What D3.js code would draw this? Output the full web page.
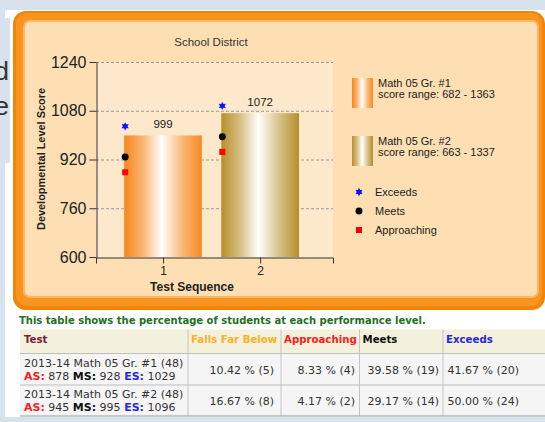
<!DOCTYPE html>
<html>
<head>
<meta charset="utf-8">
<script src="https://cdn.jsdelivr.net/npm/d3@7"></script>
<style>
  html, body { margin: 0; padding: 0; background: #d7e2ee; }
  svg { display: block; }
</style>
</head>
<body>
<svg id="page" width="545" height="422"></svg>
<script>
// chart values
const testSeq = [1, 2];
const avgScores = [999, 1072];
const exceedsScores = [1029, 1096];
const meetsScores = [928, 995];
const approachingScores = [878, 945];
const yTicks = [600, 760, 920, 1080, 1240];
const seriesNames = ["Math 05 Gr. #1", "Math 05 Gr. #2"];
const scoreRanges = ["682 - 1363", "663 - 1337"];
const levelNames = ["Exceeds", "Meets", "Approaching"];

// table values
const tableHeaders = ["Test", "Falls Far Below", "Approaching", "Meets", "Exceeds"];
const testNames = ["2013-14 Math 05 Gr. #1 (48)", "2013-14 Math 05 Gr. #2 (48)"];
const fallsPct = ["10.42", "16.67"], fallsN = [5, 8];
const approachPct = ["8.33", "4.17"], approachN = [4, 2];
const meetsPct = ["39.58", "29.17"], meetsN = [19, 14];
const exceedsPct = ["41.67", "50.00"], exceedsN = [20, 24];

const svg = d3.select("#page");
const defs = svg.append("defs");

function addGradient(id, edgeL, mid, edgeR) {
    const g = defs.append("linearGradient").attr("id", id)
        .attr("x1", "0%").attr("x2", "100%").attr("y1", "0%").attr("y2", "0%");
    g.append("stop").attr("offset", "0%").attr("stop-color", edgeL);
    g.append("stop").attr("offset", "25%").attr("stop-color", mid);
    g.append("stop").attr("offset", "48%").attr("stop-color", "#ffffff");
    g.append("stop").attr("offset", "75%").attr("stop-color", mid);
    g.append("stop").attr("offset", "100%").attr("stop-color", edgeR);
}
addGradient("grad0", "#f7861b", "#fbb777", "#f88a22");
addGradient("grad1", "#b68f2a", "#d8c187", "#b48e2c");

////////  Page background /////////////

svg.append("rect").attr("x", 5).attr("y", 10).attr("width", 540).attr("height", 407)
    .attr("fill", "#ffffff");
defs.append("clipPath").attr("id", "sideclip").append("rect")
    .attr("x", 0).attr("y", 18).attr("width", 10).attr("height", 145);
const side = svg.append("g").attr("clip-path", "url(#sideclip)");
side.append("rect").attr("x", 0).attr("y", 18).attr("width", 10).attr("height", 145)
    .attr("fill", "#d7e2ee");
// the end of a text box that sits mostly off screen
side.selectAll("text").data(["d", "e"]).join("text")
    .attr("x", 9).attr("y", (d, i) => 80 + i * 35)
    .attr("text-anchor", "end")
    .style("font", "26px 'Liberation Sans', Arial, sans-serif")
    .attr("fill", "#333")
    .text(d => d);

////////  Orange frame /////////////

svg.append("rect").attr("x", 13).attr("y", 11).attr("width", 532).attr("height", 299)
    .attr("rx", 13).attr("fill", "#f28505");
svg.append("rect").attr("x", 16).attr("y", 13).attr("width", 526).attr("height", 293)
    .attr("rx", 11).attr("fill", "#f99421");
svg.append("rect").attr("x", 24).attr("y", 21).attr("width", 514).attr("height", 276)
    .attr("rx", 6).attr("fill", "#fddfb3")
    .attr("stroke", "#fcb865").attr("stroke-width", 2);

////////  Chart /////////////

const plot = { left: 96, right: 333, top: 62, bottom: 257 };
const x = d3.scaleLinear().domain([0.31, 2.75]).range([plot.left, plot.right]);
const y = d3.scaleLinear().domain([600, 1240]).range([plot.bottom, plot.top]);
const barW = x(0.8) - x(0);
const font = "'Liberation Sans', Arial, sans-serif";

const chart = svg.append("g");
chart.append("rect")
    .attr("x", plot.left).attr("y", plot.top)
    .attr("width", plot.right - plot.left).attr("height", plot.bottom - plot.top)
    .attr("fill", "#fee8cc");

chart.append("g").selectAll("line")
    .data(yTicks.filter(t => t > 600))
    .join("line")
    .attr("x1", plot.left).attr("x2", plot.right)
    .attr("y1", d => y(d) + 0.5).attr("y2", d => y(d) + 0.5)
    .attr("stroke", "#999").attr("stroke-dasharray", "3,2");

chart.append("g").selectAll("rect")
    .data(testSeq)
    .join("rect")
    .attr("x", d => x(d) - barW / 2)
    .attr("y", (d, i) => y(avgScores[i]))
    .attr("width", barW)
    .attr("height", (d, i) => y(600) - y(avgScores[i]))
    .attr("fill", (d, i) => "url(#grad" + i + ")");

chart.append("g").selectAll("text")
    .data(testSeq)
    .join("text")
    .attr("x", d => x(d))
    .attr("y", (d, i) => y(avgScores[i]) - 7)
    .attr("text-anchor", "middle")
    .style("font", "11.5px " + font)
    .attr("fill", "#222")
    .text((d, i) => avgScores[i]);

const yAxis = chart.append("g")
    .attr("transform", "translate(" + (plot.left + 0.5) + ",0)")
    .call(d3.axisLeft(y).tickValues(yTicks).tickFormat(d3.format("d"))
        .tickSize(7).tickSizeOuter(0).tickPadding(3));
yAxis.selectAll("text").style("font", "16px " + font).attr("fill", "#222");

const xAxis = chart.append("g")
    .attr("transform", "translate(0," + (plot.bottom + 0.5) + ")")
    .call(d3.axisBottom(x).tickValues(testSeq).tickFormat(d3.format("d"))
        .tickSize(6).tickSizeOuter(6).tickPadding(3));
xAxis.selectAll("text").style("font", "12px " + font).attr("fill", "#222");
chart.selectAll(".domain, .tick line").attr("stroke", "#333");

// six pointed star for the "Exceeds" marks
const star6 = {
    draw(ctx, size) {
        const R = Math.sqrt(size) * 0.62, r = R * 0.55;
        for (let k = 0; k < 12; k++) {
            const a = Math.PI / 6 * k - Math.PI / 2;
            const rad = k % 2 == 0 ? R : r;
            if (k == 0) ctx.moveTo(rad * Math.cos(a), rad * Math.sin(a));
            else ctx.lineTo(rad * Math.cos(a), rad * Math.sin(a));
        }
        ctx.closePath();
    }
};
const levelSymbols = [
    { type: star6, size: 45, color: "#1010ff", values: exceedsScores },
    { type: d3.symbolCircle, size: 38, color: "#000000", values: meetsScores },
    { type: d3.symbolSquare, size: 36, color: "#ff0000", values: approachingScores }
];

levelSymbols.forEach(sym => {
    chart.append("g").selectAll("path")
        .data(testSeq)
        .join("path")
        .attr("transform", (d, i) => "translate(" + (x(d) - barW / 2 + 1) + "," + y(sym.values[i]) + ")")
        .attr("d", d3.symbol().type(sym.type).size(sym.size))
        .attr("fill", sym.color);
});

chart.append("text").attr("x", 211).attr("y", 46)
    .attr("text-anchor", "middle")
    .style("font", "11.5px " + font).attr("fill", "#333")
    .text("School District");

chart.append("text").attr("x", 192).attr("y", 291)
    .attr("text-anchor", "middle")
    .style("font", "bold 12px " + font).attr("fill", "#222")
    .text("Test Sequence");

chart.append("text")
    .attr("transform", "translate(45,159) rotate(-90)")
    .attr("text-anchor", "middle")
    .attr("textLength", 142).attr("lengthAdjust", "spacingAndGlyphs")
    .style("font", "bold 11px " + font).attr("fill", "#222")
    .text("Developmental Level Score");

////////  Legend /////////////

const legend = chart.append("g");
const seriesItems = legend.selectAll("g.series")
    .data(seriesNames)
    .join("g").attr("class", "series")
    .attr("transform", (d, i) => "translate(352," + (78 + i * 58) + ")");
seriesItems.append("rect")
    .attr("width", 21).attr("height", 30)
    .attr("fill", (d, i) => "url(#grad" + i + ")");
seriesItems.append("text")
    .attr("x", 26).attr("y", 9)
    .style("font", "11px " + font).attr("fill", "#222")
    .selectAll("tspan")
    .data((d, i) => [d, "score range: " + scoreRanges[i]])
    .join("tspan")
    .attr("x", 26).attr("dy", (d, i) => i == 0 ? 0 : 10.5)
    .text(d => d);

const levelItems = legend.selectAll("g.level")
    .data(levelNames)
    .join("g").attr("class", "level")
    .attr("transform", (d, i) => "translate(359," + (192 + i * 19) + ")");
levelItems.append("path")
    .attr("d", (d, i) => d3.symbol().type(levelSymbols[i].type).size(levelSymbols[i].size)())
    .attr("fill", (d, i) => levelSymbols[i].color);
levelItems.append("text")
    .attr("x", 16).attr("y", 4)
    .style("font", "11px " + font).attr("fill", "#222")
    .text(d => d);

////////  Table /////////////

const tfont = "'DejaVu Sans', Verdana, sans-serif";
const colEdges = [20, 188, 281, 359.5, 443, 546];
const valueEnds = [274, 355, 439, 519];
const headerColors = ["#7d1b3d", "#f9b02a", "#ff1a1a", "#111111", "#2727dd"];
const rowTop = [353.5, 385], rowH = [31.5, 31];

const table = svg.append("g");
table.append("text").attr("x", 19).attr("y", 324)
    .style("font", "bold 10px " + tfont).attr("fill", "#237023")
    .text("This table shows the percentage of students at each performance level.");

table.append("rect").attr("x", 20).attr("y", 329.5).attr("width", 526).attr("height", 24)
    .attr("fill", "#f3f1db");
table.selectAll("rect.row")
    .data(testNames)
    .join("rect").attr("class", "row")
    .attr("x", 20).attr("y", (d, i) => rowTop[i])
    .attr("width", 526).attr("height", (d, i) => rowH[i])
    .attr("fill", "#f5f5f5");

table.selectAll("line.col")
    .data(colEdges.slice(1, 5))
    .join("line").attr("class", "col")
    .attr("x1", d => d).attr("x2", d => d)
    .attr("y1", 329.5).attr("y2", 416)
    .attr("stroke", "#c4c4c4");
table.selectAll("line.row")
    .data([353.5, 385, 416])
    .join("line").attr("class", "row")
    .attr("x1", 20).attr("x2", 546)
    .attr("y1", d => d).attr("y2", d => d)
    .attr("stroke", (d, i) => i == 2 ? "#9a9a9a" : "#bdbdbd");

table.selectAll("text.head")
    .data(tableHeaders)
    .join("text").attr("class", "head")
    .attr("x", (d, i) => colEdges[i] + (i == 0 ? 4 : 3))
    .attr("y", 343)
    .style("font", "bold 10.2px " + tfont)
    .attr("fill", (d, i) => headerColors[i])
    .text(d => d);

const rows = table.selectAll("g.trow")
    .data(testNames)
    .join("g").attr("class", "trow")
    .attr("transform", (d, i) => "translate(0," + rowTop[i] + ")");
rows.append("text")
    .attr("x", 24).attr("y", 13)
    .style("font", "11px " + tfont).attr("fill", "#333")
    .text(d => d);
rows.append("text")
    .attr("x", 24).attr("y", 26)
    .style("font", "11px " + tfont).attr("fill", "#333")
    .selectAll("tspan")
    .data((d, i) => [
        { t: "AS:", c: "#ff1a1a", b: true }, { t: " " + approachingScores[i] + " " },
        { t: "MS:", c: "#111", b: true }, { t: " " + meetsScores[i] + " " },
        { t: "ES:", c: "#2727dd", b: true }, { t: " " + exceedsScores[i] }
    ])
    .join("tspan")
    .attr("fill", d => d.c || "#333")
    .style("font-weight", d => d.b ? "bold" : "normal")
    .style("white-space", "pre")
    .text(d => d.t);

const cellValues = (i) => [
    fallsPct[i] + " % (" + fallsN[i] + ")",
    approachPct[i] + " % (" + approachN[i] + ")",
    meetsPct[i] + " % (" + meetsN[i] + ")",
    exceedsPct[i] + " % (" + exceedsN[i] + ")"
];
rows.selectAll("text.val")
    .data((d, i) => cellValues(i))
    .join("text").attr("class", "val")
    .attr("x", (d, j) => valueEnds[j])
    .attr("y", 20)
    .attr("text-anchor", "end")
    .style("font", "11px " + tfont).attr("fill", "#333")
    .text(d => d);
</script>
</body>
</html>
